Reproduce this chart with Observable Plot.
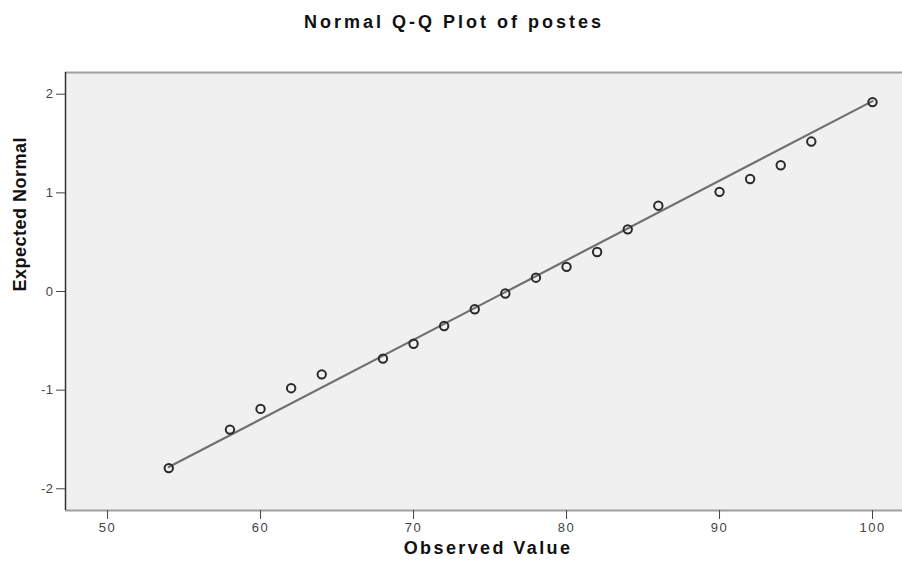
<!DOCTYPE html>
<html><head><meta charset="utf-8">
<script src="https://cdn.jsdelivr.net/npm/d3@7"></script>
<script src="https://cdn.jsdelivr.net/npm/@observablehq/plot@0.6"></script>
<style>
body{margin:0;background:#fff;font-family:"Liberation Sans",Arial,sans-serif;}
#wrap{position:relative;width:902px;height:566px;overflow:hidden;}
#title{position:absolute;left:0;top:11px;width:902px;text-align:center;font-weight:bold;font-size:18px;letter-spacing:3px;padding-left:3px;color:#111;line-height:22px;}
#chart{position:absolute;left:0;top:0;}
g[aria-label="x-axis tick label"] text{letter-spacing:1.5px;}
g[aria-label="y-axis tick label"] text{letter-spacing:0.5px;}
</style></head><body>
<div id="wrap"><div id="chart"></div><div id="title">Normal Q-Q Plot of postes</div></div>
<script>
const observed = [54, 58, 60, 62, 64, 68, 70, 72, 74, 76, 78, 80, 82, 84, 86, 90, 92, 94, 96, 100];
const expected = [-1.79, -1.40, -1.19, -0.98, -0.84, -0.68, -0.53, -0.35, -0.18, -0.02, 0.14, 0.25, 0.40, 0.63, 0.87, 1.01, 1.14, 1.28, 1.52, 1.92];
const lineX = [54, 100];
const lineY = [-1.78, 1.93];
const xTicks = [50, 60, 70, 80, 90, 100];
const yTicks = [-2, -1, 0, 1, 2];
const xDomain = [47.25, 101.96];
const yDomain = [-2.22, 2.22];
const xLabel = "Observed Value";
const yLabel = "Expected Normal";

const points = observed.map((x, i) => ({x, y: expected[i]}));
const refLine = lineX.map((x, i) => ({x, y: lineY[i]}));

const chart = Plot.plot({
  width: 902, height: 566,
  marginTop: 72, marginLeft: 65, marginRight: 0, marginBottom: 56,
  style: {background: "transparent", fontFamily: "'Liberation Sans', Arial, sans-serif", color: "#333"},
  x: {domain: xDomain, label: null},
  y: {domain: yDomain, label: null},
  marks: [
    Plot.frame({fill: "#f0f0f0", stroke: null}),
    Plot.ruleY([yDomain[0], yDomain[1]], {stroke: "#a0a0a0", strokeWidth: 2}),
    Plot.ruleX([xDomain[0]], {stroke: "#333", strokeWidth: 1.5}),
    Plot.axisX({ticks: xTicks, tickFormat: d => String(d), tickSize: 9, tickPadding: 3, fontSize: 13, label: null, stroke: "#444", fill: "#444"}),
    Plot.axisY({ticks: yTicks, tickFormat: d => String(d), tickSize: 9, tickPadding: 3, fontSize: 13, label: null, stroke: "#444", fill: "#444"}),
    Plot.line(refLine, {x: "x", y: "y", stroke: "#707070", strokeWidth: 2.2}),
    Plot.dot(points, {x: "x", y: "y", r: 4.2, stroke: "#2a2a2a", strokeWidth: 2, fill: "none"}),
    Plot.text([xLabel], {frameAnchor: "bottom", dy: 43, dx: 4, text: d => d, fontSize: 18, fontWeight: "bold", fill: "#111"}),
    Plot.text([yLabel], {frameAnchor: "left", dx: -45, rotate: -90, text: d => d, fontSize: 18, fontWeight: "bold", fill: "#111"})
  ]
});
d3.select(chart).selectAll("text").each(function() {
  const t = this.textContent;
  if (t === xLabel) this.setAttribute("letter-spacing", "2.4px");
  if (t === yLabel) this.setAttribute("letter-spacing", "0.5px");
});
document.getElementById("chart").appendChild(chart);
</script>
</body></html>
